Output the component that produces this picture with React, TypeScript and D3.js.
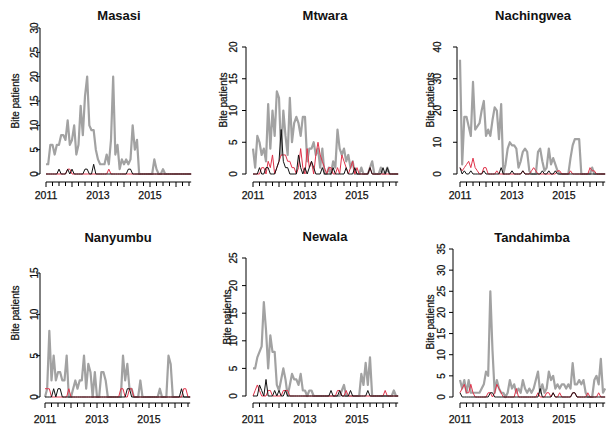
import React from "react";
import * as d3 from "d3";

// monthly bite patient counts, Jan 2011 .. Aug 2016
const districts = ["Masasi", "Mtwara", "Nachingwea", "Nanyumbu", "Newala", "Tandahimba"];
const yMaxes = [30, 20, 40, 15, 25, 35];
const yTickSteps = [5, 5, 10, 5, 5, 5];
const yearLabels = [2011, 2013, 2015];

const masasiGrey = [
  2, 2, 6, 6, 4, 6, 6, 8, 8, 7, 11, 6, 7, 10, 4, 6, 14, 8, 16, 20,
  10, 9, 9, 5, 3, 2, 2, 2, 4, 2, 7, 20, 4, 6, 1, 3, 2, 3, 2, 3,
  10, 5, 7, 0, 0, 0, 0, 0, 0, 0, 3, 1, 0, 0, 1, 0, 0, 0, 0, 0,
  0, 0, 0, 0, 0, 0, 0, 0,
];
const masasiRed = [
  0, 0, 0, 0, 0, 0, 0, 0, 0, 0, 1, 1, 0, 0, 0, 0, 0, 0, 0, 0,
  0, 0, 0, 0, 0, 0, 0, 0, 0, 1, 0, 0, 0, 0, 0, 0, 0, 0, 0, 0,
  0, 0, 0, 0, 0, 0, 0, 0, 0, 0, 0, 0, 0, 0, 0, 0, 0, 0, 0, 0,
  0, 0, 0, 0, 0, 0, 0, 0,
];
const masasiBlack = [
  0, 0, 0, 0, 0, 0, 1, 0, 0, 0, 1, 0, 1, 0, 0, 0, 0, 0, 1, 1,
  0, 0, 2, 0, 0, 0, 0, 0, 0, 0, 0, 0, 0, 0, 0, 0, 0, 0, 1, 1,
  0, 0, 0, 0, 0, 0, 0, 0, 0, 0, 0, 0, 0, 0, 0, 0, 0, 0, 0, 0,
  0, 0, 0, 0, 0, 0, 0, 0,
];

const mtwaraGrey = [
  4, 1, 6, 5, 3, 4, 2, 11, 4, 10, 6, 13, 12, 3, 10, 6, 3, 12, 5, 8,
  9, 8, 6, 9, 9, 2, 4, 4, 5, 3, 4, 1, 4, 0, 0, 1, 0, 2, 1, 7,
  4, 3, 4, 2, 3, 1, 2, 0, 0, 0, 1, 0, 0, 0, 1, 2, 0, 0, 0, 1,
  0, 0, 1, 0, 0, 0, 0, 0,
];
const mtwaraRed = [
  0, 0, 0, 0, 1, 1, 0, 2, 1, 3, 0, 1, 2, 3, 3, 3, 2, 2, 1, 1,
  0, 1, 4, 1, 0, 4, 1, 2, 0, 3, 5, 3, 2, 1, 0, 1, 1, 0, 0, 1,
  0, 3, 2, 1, 0, 1, 2, 0, 1, 0, 0, 0, 0, 0, 1, 0, 0, 0, 0, 0,
  0, 0, 0, 0, 0, 0, 0, 0,
];
const mtwaraBlack = [
  0, 0, 0, 1, 0, 0, 1, 1, 0, 0, 0, 1, 2, 7, 2, 1, 1, 0, 0, 0,
  0, 3, 1, 0, 1, 0, 1, 2, 1, 0, 0, 0, 1, 0, 0, 0, 0, 1, 0, 0,
  0, 0, 0, 1, 0, 0, 0, 1, 0, 0, 0, 0, 0, 0, 1, 0, 0, 0, 0, 0,
  1, 0, 1, 0, 0, 0, 0, 0,
];

const nachingweaGrey = [
  36, 3, 18, 18, 15, 12, 29, 14, 15, 16, 20, 23, 12, 14, 12, 17, 21, 20, 11, 22,
  0, 3, 8, 10, 9, 9, 8, 2, 4, 7, 8, 7, 1, 0, 0, 0, 7, 8, 4, 1,
  2, 8, 3, 5, 3, 1, 0, 0, 0, 0, 0, 5, 9, 11, 11, 11, 0, 0, 0, 0,
  0, 2, 0, 0, 0, 0, 0, 0,
];
const nachingweaRed = [
  2, 1, 2, 3, 4, 2, 5, 2, 1, 0, 0, 2, 2, 0, 0, 0, 0, 1, 0, 0,
  0, 0, 0, 0, 0, 0, 0, 0, 0, 1, 0, 0, 0, 1, 2, 1, 0, 0, 0, 0,
  0, 0, 0, 0, 0, 1, 1, 0, 0, 0, 0, 1, 0, 0, 0, 0, 0, 0, 0, 0,
  2, 1, 1, 0, 0, 0, 0, 0,
];
const nachingweaBlack = [
  2, 0, 1, 0, 0, 1, 0, 0, 0, 0, 0, 1, 0, 0, 0, 0, 0, 0, 0, 2,
  0, 0, 0, 0, 1, 0, 0, 0, 0, 1, 0, 0, 0, 0, 0, 0, 0, 0, 1, 0,
  0, 1, 0, 0, 1, 0, 0, 0, 0, 0, 0, 0, 0, 0, 0, 0, 0, 0, 0, 0,
  0, 0, 0, 0, 0, 0, 0, 0,
];

const nanyumbuGrey = [
  0, 1, 8, 2, 5, 2, 3, 3, 2, 2, 5, 0, 0, 1, 2, 1, 2, 2, 5, 1,
  4, 3, 0, 3, 0, 0, 3, 3, 2, 0, 0, 0, 0, 0, 0, 0, 5, 2, 4, 1,
  1, 0, 0, 0, 2, 0, 0, 0, 0, 0, 0, 0, 0, 1, 0, 0, 0, 5, 4, 0,
  0, 0, 0, 0, 0, 0, 0, 0,
];
const nanyumbuRed = [
  1, 1, 1, 0, 0, 0, 0, 0, 0, 0, 0, 1, 0, 0, 0, 0, 0, 0, 0, 0,
  0, 0, 0, 0, 0, 0, 0, 0, 0, 0, 0, 0, 0, 0, 0, 1, 1, 0, 0, 1,
  1, 0, 0, 0, 0, 0, 0, 0, 0, 0, 0, 0, 0, 0, 0, 0, 0, 0, 0, 0,
  0, 0, 0, 0, 1, 1, 0, 0,
];
const nanyumbuBlack = [
  0, 0, 0, 0, 1, 0, 1, 1, 0, 0, 0, 0, 0, 0, 0, 0, 0, 0, 0, 0,
  0, 0, 0, 0, 0, 0, 0, 0, 0, 0, 0, 0, 0, 0, 0, 0, 0, 0, 1, 1,
  0, 0, 0, 0, 0, 0, 0, 0, 0, 0, 0, 0, 0, 0, 0, 0, 0, 0, 0, 0,
  0, 0, 0, 1, 0, 0, 0, 0,
];

const newalaGrey = [
  5, 5, 7, 8, 9, 17, 12, 5, 11, 8, 8, 2, 1, 3, 5, 3, 0, 2, 4, 3,
  3, 2, 4, 1, 1, 0, 1, 1, 0, 0, 0, 0, 0, 0, 0, 0, 0, 0, 0, 0,
  0, 1, 2, 0, 0, 0, 0, 0, 0, 0, 4, 2, 6, 2, 7, 0, 0, 0, 0, 0,
  0, 0, 0, 0, 0, 1, 0, 0,
];
const newalaRed = [
  0, 1, 2, 1, 0, 0, 0, 1, 1, 0, 0, 0, 0, 0, 1, 1, 1, 0, 0, 0,
  0, 0, 0, 0, 0, 0, 0, 0, 0, 0, 0, 0, 0, 0, 0, 0, 0, 0, 0, 1,
  1, 0, 0, 1, 0, 0, 0, 0, 0, 0, 0, 0, 0, 0, 0, 0, 0, 0, 0, 0,
  0, 1, 0, 0, 0, 0, 0, 0,
];
const newalaBlack = [
  0, 0, 0, 2, 1, 0, 3, 0, 0, 0, 1, 0, 1, 0, 0, 1, 0, 0, 0, 0,
  0, 0, 0, 0, 0, 0, 0, 0, 0, 0, 0, 0, 0, 0, 0, 0, 1, 0, 0, 0,
  1, 0, 0, 0, 0, 1, 0, 0, 0, 0, 0, 0, 0, 1, 0, 0, 0, 0, 0, 0,
  0, 0, 0, 0, 0, 0, 0, 0,
];

const tandahimbaGrey = [
  4, 2, 4, 1, 4, 1, 1, 1, 1, 1, 2, 3, 6, 5, 25, 11, 1, 4, 2, 1,
  1, 0, 1, 4, 2, 3, 1, 2, 1, 4, 2, 1, 2, 1, 2, 4, 6, 1, 3, 1,
  2, 6, 4, 5, 2, 3, 2, 3, 3, 2, 3, 2, 8, 3, 3, 4, 3, 4, 1, 0,
  0, 0, 4, 5, 3, 9, 1, 2,
];
const tandahimbaRed = [
  1, 2, 3, 1, 1, 3, 1, 0, 0, 0, 0, 0, 0, 1, 1, 0, 1, 3, 2, 1,
  0, 0, 0, 0, 0, 0, 2, 0, 0, 0, 0, 0, 0, 0, 0, 0, 1, 0, 0, 0,
  1, 1, 0, 1, 0, 0, 1, 0, 0, 0, 0, 0, 1, 1, 0, 0, 0, 0, 0, 1,
  0, 0, 0, 0, 1, 0, 0, 0,
];
const tandahimbaBlack = [
  1, 0, 0, 0, 0, 0, 0, 0, 0, 0, 0, 0, 0, 0, 1, 1, 0, 0, 0, 0,
  0, 0, 0, 0, 0, 0, 0, 0, 0, 0, 0, 0, 0, 0, 0, 0, 0, 2, 0, 0,
  0, 0, 0, 1, 0, 0, 0, 0, 0, 0, 0, 0, 1, 1, 0, 0, 0, 0, 0, 0,
  0, 0, 0, 0, 0, 0, 0, 0,
];

const greySeries = [masasiGrey, mtwaraGrey, nachingweaGrey, nanyumbuGrey, newalaGrey, tandahimbaGrey];
const redSeries = [masasiRed, mtwaraRed, nachingweaRed, nanyumbuRed, newalaRed, tandahimbaRed];
const blackSeries = [masasiBlack, mtwaraBlack, nachingweaBlack, nanyumbuBlack, newalaBlack, tandahimbaBlack];

// pixel layout of each panel (the source figure is a patchwork, panels differ a bit)
const layout = [
  { axisX: 40, tickLabX: 34, ylabX: 15, ylabY: 101, xStart: 46, y0: 174, yTop: 28, xAxisY: 182, titleX: 119, titleY: 20, yearY: 199 },
  { axisX: 246, tickLabX: 233, ylabX: 223, ylabY: 100, xStart: 253, y0: 174, yTop: 47, xAxisY: 182, titleX: 325, titleY: 20, yearY: 199 },
  { axisX: 457, tickLabX: 437, ylabX: 430, ylabY: 100, xStart: 460, y0: 174, yTop: 47, xAxisY: 182, titleX: 533, titleY: 20, yearY: 199 },
  { axisX: 40, tickLabX: 34, ylabX: 15, ylabY: 313, xStart: 45, y0: 397, yTop: 273, xAxisY: 403, titleX: 118, titleY: 242, yearY: 423 },
  { axisX: 246, tickLabX: 233, ylabX: 227, ylabY: 317, xStart: 253, y0: 396, yTop: 258, xAxisY: 403, titleX: 325, titleY: 241, yearY: 423 },
  { axisX: 453, tickLabX: 441, ylabX: 430, ylabY: 322, xStart: 460, y0: 397, yTop: 249, xAxisY: 403, titleX: 532, titleY: 242, yearY: 423 },
];

const FONT = "'Liberation Sans', Arial, Helvetica, sans-serif";
const pxPerYear = 26;

function Panel({ idx }: { idx: number }) {
  const L = layout[idx];
  const x = d3.scaleLinear().domain([2011, 2017]).range([L.xStart, L.xStart + 6 * pxPerYear]);
  const y = d3.scaleLinear().domain([0, yMaxes[idx]]).range([L.y0, L.yTop]);
  const t = (i: number) => 2011 + i / 12;
  const line = d3
    .line<number>()
    .x((_, i) => x(t(i)))
    .y((d) => y(d));

  const yTicks = d3.range(0, yMaxes[idx] + 0.001, yTickSteps[idx]);
  const quarterTicks = d3.range(0, 23).map((q) => 2011 + q / 4);
  const lastT = t(greySeries[idx].length - 1);
  const txt = { fontFamily: FONT, fill: "#111", stroke: "#111", strokeWidth: 0.25 };

  return (
    <g>
      <path d={line(greySeries[idx]) || ""} fill="none" stroke="#a2a2a2" strokeWidth={2.2} strokeLinejoin="round" />
      <path d={line(redSeries[idx]) || ""} fill="none" stroke="#e0334a" strokeWidth={1} strokeLinejoin="round" />
      <path d={line(blackSeries[idx]) || ""} fill="none" stroke="#111" strokeWidth={1} strokeLinejoin="round" />

      {/* y axis */}
      <line x1={L.axisX} x2={L.axisX} y1={y(0)} y2={y(yMaxes[idx])} stroke="#000" strokeWidth={1} />
      {yTicks.map((v) => (
        <g key={v}>
          <line x1={L.axisX - 4} x2={L.axisX} y1={y(v)} y2={y(v)} stroke="#000" strokeWidth={1} />
          <text
            transform={`translate(${L.tickLabX},${y(v)}) rotate(-90)`}
            textAnchor="middle"
            dy="0.35em"
            fontSize={10}
            {...txt}
          >
            {v}
          </text>
        </g>
      ))}
      <text
        transform={`translate(${L.ylabX},${L.ylabY}) rotate(-90)`}
        textAnchor="middle"
        dy="0.35em"
        fontSize={10}
        {...txt}
      >
        Bite patients
      </text>

      {/* x axis */}
      <line x1={x(2011)} x2={x(lastT)} y1={L.xAxisY} y2={L.xAxisY} stroke="#000" strokeWidth={1} />
      {quarterTicks.map((q) => (
        <line
          key={q}
          x1={x(q)}
          x2={x(q)}
          y1={L.xAxisY}
          y2={L.xAxisY + (Number.isInteger(q) ? 5 : 4)}
          stroke="#000"
          strokeWidth={1}
        />
      ))}
      {yearLabels.map((yr) => (
        <text key={yr} x={x(yr)} y={L.yearY} textAnchor="middle" fontSize={10.5} {...txt}>
          {yr}
        </text>
      ))}

      <text x={L.titleX} y={L.titleY} textAnchor="middle" fontSize={13} fontWeight="bold" fontFamily={FONT} fill="#111">
        {districts[idx]}
      </text>
    </g>
  );
}

export default function App() {
  return (
    <svg
      width={608}
      height={425}
      viewBox="0 0 608 425"
      style={{ position: "absolute", left: 0, top: 0, background: "#fff" }}
    >
      <rect width={608} height={425} fill="#fff" />
      {districts.map((_, i) => (
        <Panel key={i} idx={i} />
      ))}
    </svg>
  );
}
